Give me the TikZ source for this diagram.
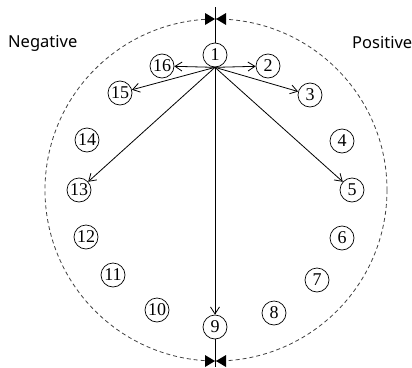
\documentclass[tikz,border=0pt]{standalone}
\usepackage{fontspec}
\setmainfont{Liberation Serif}
\newfontfamily\labfont{Noto Sans}
\usetikzlibrary{arrows.meta}
\begin{document}
\begin{tikzpicture}[x=1pt,y=-1pt,
  num/.style={draw, circle, line width=0.7pt, minimum size=24pt, inner sep=0pt, font=\fontsize{18}{18}\selectfont},
  arr/.style={line width=0.8pt, -{Straight Barb[length=7pt,width=9pt]}},
  lab/.style={font=\labfont\fontsize{16.5}{17}\selectfont, inner sep=0pt},
  bow/.style={fill=black}]
\useasboundingbox (0,0) rectangle (412,367);
\draw[dashed, dash pattern=on 4pt off 3pt, line width=0.8pt, black!75] (216,190) circle (171);
\node[num] (n1) at (215,55) {1};
\node[num] (n2) at (268,66) {2};
\node[num] (n3) at (310,95) {3};
\node[num] (n4) at (342,141) {4};
\node[num] (n5) at (352,190) {5};
\node[num] (n6) at (342,238) {6};
\node[num] (n7) at (317,280) {7};
\node[num] (n8) at (274,313) {8};
\node[num] (n9) at (215,327) {9};
\node[num] (n10) at (157,310) {10};
\node[num] (n11) at (113,275) {11};
\node[num] (n12) at (86,237) {12};
\node[num] (n13) at (79,190) {13};
\node[num] (n14) at (87,140) {14};
\node[num] (n15) at (120,93) {15};
\node[num] (n16) at (162,66) {16};
\node[lab, anchor=west] (neg) at (8,43) {Negative};
\node[lab, anchor=west] (pos) at (352,43) {Positive};
\coordinate (top) at (215,7);
\coordinate (bot) at (215,367);
\coordinate (s) at (n1.south);
\draw[line width=0.8pt] (top) -- (n1.north);
\draw[line width=0.8pt] (n9.south) -- (bot);
\foreach \t in {n2,n3,n5,n9,n13,n15,n16}{
  \draw[arr] (s) -- (\t);
}
\fill[bow] (205,13) -- (215,19) -- (205,25) -- cycle;
\fill[bow] (226,13) -- (216,19) -- (226,25) -- cycle;
\fill[bow] (205,355) -- (215,361) -- (205,367) -- cycle;
\fill[bow] (226,355) -- (216,361) -- (226,367) -- cycle;
\end{tikzpicture}
\end{document}
